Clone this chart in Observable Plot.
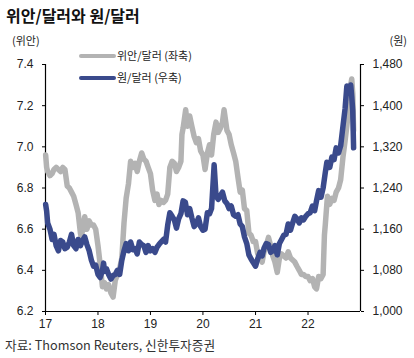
<!DOCTYPE html>
<html>
<head>
<meta charset="utf-8">
<script src="https://cdn.jsdelivr.net/npm/d3@7"></script>
<script src="https://cdn.jsdelivr.net/npm/@observablehq/plot@0.6"></script>
<style>
  html, body { margin: 0; padding: 0; background: #fff; }
  #wrap { width: 414px; height: 358px; position: relative; overflow: hidden; }
  #title { height: 30px; line-height: 30px; padding-left: 6px; font-family: "Noto Sans CJK KR", sans-serif; font-weight: 700; font-size: 16px; color: #111; }
  #caption { height: 20px; line-height: 18px; padding-left: 5px; font-family: "Noto Sans CJK KR", sans-serif; font-size: 12.7px; color: #333; }
  svg { display: block; }
</style>
</head>
<body>
<div id="wrap">
  <div id="title">위안/달러와 원/달러</div>
  <div id="chart"></div>
  <div id="caption">자료: Thomson Reuters, 신한투자증권</div>
</div>
<script>
// ---- data ----
const yearTicks = ["2017-01-01","2018-01-01","2019-01-01","2020-01-01","2021-01-01","2022-01-01"];
const yearLabels = ["17","18","19","20","21","22"];
const xDomain = ["2017-01-01","2023-01-01"];
const leftTicks = [6.2, 6.4, 6.6, 6.8, 7.0, 7.2, 7.4];
const rightTicks = [1000, 1080, 1160, 1240, 1320, 1400, 1480];
const seriesNames = ["위안/달러 (좌축)", "원/달러 (우축)"];
const unitLabels = ["(위안)", "(원)"];

const cnyDates = [
"2017-01-02","2017-01-09","2017-01-16","2017-02-01","2017-02-16","2017-03-01","2017-03-16","2017-04-01","2017-04-16","2017-05-01","2017-05-16","2017-06-01","2017-06-16","2017-07-01","2017-07-16","2017-08-01","2017-08-16","2017-09-01","2017-09-08","2017-09-16","2017-10-01","2017-10-16","2017-11-01","2017-11-16","2017-12-01","2017-12-16",
"2018-01-01","2018-01-16","2018-02-01","2018-02-16","2018-03-01","2018-03-16","2018-04-01","2018-04-16","2018-05-01","2018-05-16","2018-06-01","2018-06-16","2018-07-01","2018-07-16","2018-08-01","2018-08-16","2018-09-01","2018-09-16","2018-10-01","2018-10-16","2018-11-01","2018-11-16","2018-12-01","2018-12-16",
"2019-01-01","2019-01-16","2019-02-01","2019-02-16","2019-03-01","2019-03-16","2019-04-01","2019-04-16","2019-05-01","2019-05-16","2019-06-01","2019-06-16","2019-07-01","2019-07-16","2019-08-01","2019-08-08","2019-08-16","2019-09-03","2019-09-16","2019-10-01","2019-10-16","2019-11-01","2019-11-16","2019-12-01","2019-12-16",
"2020-01-01","2020-01-16","2020-02-01","2020-02-16","2020-03-01","2020-03-16","2020-04-01","2020-04-16","2020-05-01","2020-05-16","2020-05-27","2020-06-16","2020-07-01","2020-07-16","2020-08-01","2020-08-16","2020-09-01","2020-09-16","2020-10-01","2020-10-16","2020-11-01","2020-11-16","2020-12-01","2020-12-16",
"2021-01-01","2021-01-16","2021-02-01","2021-02-16","2021-03-01","2021-03-16","2021-04-01","2021-04-16","2021-05-01","2021-05-16","2021-06-01","2021-06-16","2021-07-01","2021-07-16","2021-08-01","2021-08-16","2021-09-01","2021-09-16","2021-10-01","2021-10-16","2021-11-01","2021-11-16","2021-12-01","2021-12-16",
"2022-01-01","2022-01-16","2022-02-01","2022-02-16","2022-03-01","2022-03-16","2022-04-01","2022-04-16","2022-04-25","2022-05-01","2022-05-16","2022-06-01","2022-06-16","2022-07-01","2022-07-16","2022-08-01","2022-08-16","2022-09-01","2022-09-16","2022-10-01","2022-10-16","2022-10-25","2022-11-01","2022-11-08","2022-11-14"];
const cnyValues = [
6.96,6.90,6.88,6.86,6.87,6.89,6.90,6.89,6.88,6.90,6.89,6.81,6.80,6.78,6.76,6.72,6.68,6.58,6.56,6.60,6.66,6.60,6.64,6.62,6.62,6.60,
6.52,6.43,6.32,6.34,6.31,6.33,6.29,6.27,6.35,6.38,6.41,6.46,6.63,6.75,6.82,6.93,6.90,6.92,6.88,6.93,6.97,6.94,6.93,6.90,
6.87,6.79,6.74,6.77,6.72,6.74,6.73,6.74,6.77,6.90,6.93,6.92,6.88,6.90,6.93,7.06,7.09,7.18,7.10,7.15,7.10,7.05,7.02,7.04,6.98,
6.96,6.89,6.97,7.01,6.96,7.06,7.12,7.07,7.09,7.12,7.18,7.08,7.06,7.01,6.97,6.93,6.85,6.78,6.79,6.70,6.69,6.58,6.57,6.54,
6.54,6.48,6.47,6.44,6.49,6.52,6.56,6.52,6.47,6.44,6.39,6.46,6.48,6.47,6.46,6.49,6.46,6.45,6.44,6.42,6.40,6.38,6.38,6.37,
6.37,6.35,6.36,6.32,6.31,6.37,6.36,6.38,6.57,6.62,6.76,6.72,6.75,6.74,6.78,6.80,6.84,6.95,7.03,7.12,7.22,7.30,7.33,7.26,7.08];

const krwDates = [
"2017-01-02","2017-01-09","2017-01-16","2017-02-01","2017-02-16","2017-03-01","2017-03-16","2017-04-01","2017-04-16","2017-05-01","2017-05-16","2017-06-01","2017-06-16","2017-07-01","2017-07-16","2017-08-01","2017-08-16","2017-09-01","2017-09-16","2017-10-01","2017-10-16","2017-11-01","2017-11-16","2017-12-01","2017-12-16",
"2018-01-01","2018-01-16","2018-02-01","2018-02-09","2018-02-16","2018-03-01","2018-03-16","2018-04-01","2018-04-16","2018-05-01","2018-05-16","2018-06-01","2018-06-16","2018-07-01","2018-07-16","2018-08-01","2018-08-16","2018-09-01","2018-09-16","2018-10-01","2018-10-16","2018-11-01","2018-11-16","2018-12-01","2018-12-16",
"2019-01-01","2019-01-16","2019-02-01","2019-02-16","2019-03-01","2019-03-16","2019-04-01","2019-04-16","2019-05-01","2019-05-16","2019-06-01","2019-06-16","2019-07-01","2019-07-16","2019-08-01","2019-08-16","2019-09-01","2019-09-16","2019-10-01","2019-10-16","2019-11-01","2019-11-16","2019-12-01","2019-12-16",
"2020-01-01","2020-01-16","2020-02-01","2020-02-16","2020-03-01","2020-03-19","2020-04-01","2020-04-16","2020-05-01","2020-05-16","2020-06-01","2020-06-16","2020-07-01","2020-07-16","2020-08-01","2020-08-16","2020-09-01","2020-09-16","2020-10-01","2020-10-16","2020-11-01","2020-11-16","2020-12-01","2020-12-16",
"2021-01-01","2021-01-16","2021-02-01","2021-02-16","2021-03-01","2021-03-16","2021-04-01","2021-04-16","2021-05-01","2021-05-16","2021-06-01","2021-06-16","2021-07-01","2021-07-16","2021-08-01","2021-08-16","2021-09-01","2021-09-16","2021-10-01","2021-10-16","2021-11-01","2021-11-16","2021-12-01","2021-12-16",
"2022-01-01","2022-01-16","2022-02-01","2022-02-16","2022-03-01","2022-03-16","2022-04-01","2022-04-16","2022-05-01","2022-05-12","2022-06-01","2022-06-16","2022-07-01","2022-07-16","2022-08-01","2022-08-16","2022-09-01","2022-09-16","2022-09-28","2022-10-16","2022-10-25","2022-11-01","2022-11-08","2022-11-14"];
const krwValues = [
1208,1195,1172,1160,1140,1150,1128,1118,1138,1135,1122,1125,1135,1150,1128,1122,1140,1128,1138,1145,1130,1118,1100,1088,1090,
1072,1066,1080,1094,1078,1083,1072,1063,1070,1072,1080,1072,1100,1118,1132,1118,1135,1120,1122,1112,1135,1130,1128,1115,1128,
1118,1122,1115,1125,1130,1135,1140,1135,1168,1192,1185,1178,1162,1180,1190,1215,1212,1188,1200,1182,1165,1170,1182,1165,
1158,1160,1192,1190,1200,1285,1225,1218,1225,1232,1215,1210,1200,1205,1188,1185,1188,1170,1165,1145,1132,1110,1102,1095,
1088,1102,1115,1108,1123,1132,1130,1115,1118,1128,1110,1132,1140,1148,1150,1170,1158,1172,1185,1180,1172,1182,1178,1185,
1190,1192,1205,1196,1215,1235,1222,1240,1270,1290,1280,1300,1295,1318,1308,1322,1360,1395,1438,1425,1440,1418,1390,1318];

// ---- build ----
const gray = "#b3b3b3";
const blue = "#3a4a8c";
const L0 = leftTicks[0], L1 = leftTicks[leftTicks.length - 1];
const R0 = rightTicks[0], R1 = rightTicks[rightTicks.length - 1];
const toLeft = w => L0 + (w - R0) * (L1 - L0) / (R1 - R0);
const toRight = v => R0 + (v - L0) * (R1 - R0) / (L1 - L0);

const cnyData = cnyDates.map((d, i) => ({date: new Date(d), v: cnyValues[i]}));
const krwData = krwDates.map((d, i) => ({date: new Date(d), v: krwValues[i]}));
const xd = xDomain.map(d => new Date(d));

const chart = Plot.plot({
  width: 414, height: 306,
  marginTop: 34, marginBottom: 25, marginLeft: 45, marginRight: 54,
  style: {fontFamily: "'Liberation Sans', 'Noto Sans CJK KR', sans-serif", fontSize: "12px", color: "#222", background: "#fff"},
  x: {type: "utc", domain: xd},
  y: {domain: [L0, L1]},
  marks: [
    Plot.axisX({ticks: yearTicks.map(d => new Date(d)), tickFormat: d => yearLabels[yearTicks.indexOf(d.toISOString().slice(0,10))], tickSize: 4, tickPadding: 4, label: null, stroke: "#000"}),
    Plot.axisY({anchor: "left", ticks: leftTicks, tickFormat: d3.format(".1f"), tickSize: 3, tickPadding: 9, label: null, stroke: "#000"}),
    Plot.axisY({anchor: "right", ticks: rightTicks.map(toLeft), tickFormat: d => d3.format(",")(Math.round(toRight(d))), tickSize: 3, tickPadding: 9, label: null, stroke: "#000"}),
    Plot.ruleX(xd, {stroke: "#000", strokeWidth: 1.2}),
    Plot.ruleY([L0], {stroke: "#000", strokeWidth: 1.2}),
    Plot.lineY(cnyData, {x: "date", y: "v", stroke: gray, strokeWidth: 5.5, strokeLinejoin: "round"}),
    Plot.lineY(krwData, {x: "date", y: d => toLeft(d.v), stroke: blue, strokeWidth: 5.5, strokeLinejoin: "round"})
  ]
});
document.getElementById("chart").appendChild(chart);

// legend + unit labels
const svg = d3.select(chart);
const kfont = "'Noto Sans CJK KR', sans-serif";
svg.append("text").attr("x", 12).attr("y", 11).attr("dy", "0.35em").attr("text-anchor", "start").attr("font-family", kfont).attr("font-size", 11).attr("fill", "#222").text(unitLabels[0]);
svg.append("text").attr("x", 407).attr("y", 11).attr("dy", "0.35em").attr("text-anchor", "end").attr("font-family", kfont).attr("font-size", 11).attr("fill", "#222").text(unitLabels[1]);
[[gray, 26], [blue, 48]].forEach(([c, y], i) => {
  svg.append("line").attr("x1", 81).attr("x2", 114).attr("y1", y).attr("y2", y).attr("stroke", c).attr("stroke-width", 4).attr("stroke-linecap", "round");
  svg.append("text").attr("x", 117).attr("y", y).attr("dy", "0.35em").attr("text-anchor", "start").attr("font-family", kfont).attr("font-size", 11).attr("fill", "#222").text(seriesNames[i]);
});
</script>
</body>
</html>
